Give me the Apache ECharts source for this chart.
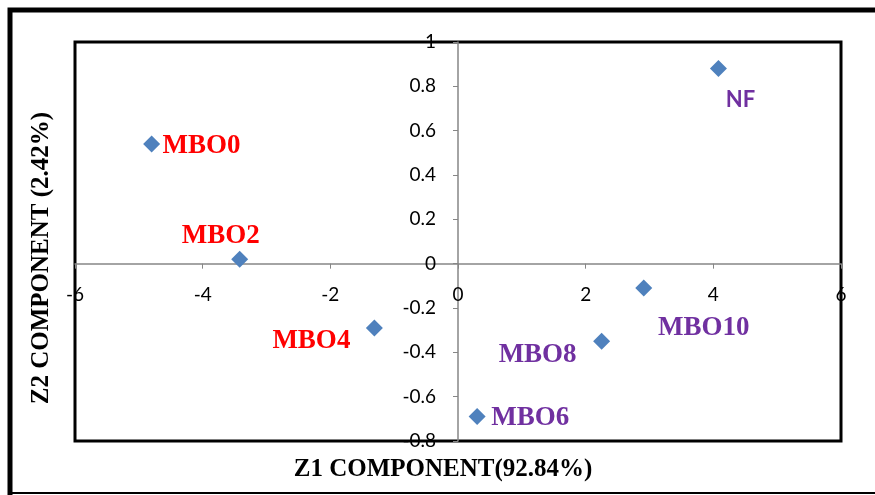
<!DOCTYPE html>
<html>
<head>
<meta charset="utf-8">
<script src="https://cdn.jsdelivr.net/npm/echarts@6/dist/echarts.min.js"></script>
<style>
  html, body { margin: 0; padding: 0; background: #fff; }
  #chart { width: 875px; height: 495px; }
</style>
</head>
<body>
<div id="chart"></div>
<script>
// sample names and PCA scores
var names = ['MBO0', 'MBO2', 'MBO4', 'MBO6', 'MBO8', 'MBO10', 'NF'];
var z1 = [-4.80, -3.42, -1.31, 0.30, 2.25, 2.91, 4.08];
var z2 = [0.54, 0.02, -0.29, -0.69, -0.35, -0.11, 0.88];

// axis ranges / ticks
var xMin = -6, xMax = 6, xStep = 2;
var yMin = -0.8, yMax = 1, yStep = 0.2;

// label placement (px from the marker centre) and colours
var labelOffsets = [[50, 2], [-19, -23], [-63, 13], [53, 1], [-64, 14], [60, 40], [22, 31]];
var labelColors = ['#ff0000', '#ff0000', '#ff0000', '#7030a0', '#7030a0', '#7030a0', '#7030a0'];

var W = 875, H = 495;
var gLeft = 75, gRight = 34, gTop = 42, gBottom = 54;
var gW = W - gLeft - gRight, gH = H - gTop - gBottom;

// axes cross at zero: shift each axis from the grid edge onto the zero line
var xAxisOffset = -gH * (0 - yMin) / (yMax - yMin);
var yAxisOffset = -gW * (0 - xMin) / (xMax - xMin);

var points = names.map(function (n, i) {
    var isNF = n === 'NF';
    return {
        name: n,
        value: [z1[i], z2[i]],
        label: {
            offset: labelOffsets[i],
            color: labelColors[i],
            fontFamily: isNF ? 'Lato' : 'Liberation Serif',
            fontSize: isNF ? 22 : 27
        }
    };
});

var chart = echarts.init(document.getElementById('chart'));

var axisGray = '#868686';

var option = {
    animation: false,
    grid: {
        left: gLeft, right: gRight, top: gTop, bottom: gBottom,
        show: true,
        borderColor: '#000',
        borderWidth: 3,
        backgroundColor: 'transparent'
    },
    xAxis: {
        type: 'value',
        position: 'bottom',
        offset: xAxisOffset,
        min: xMin, max: xMax, interval: xStep,
        axisLine: { onZero: false, lineStyle: { color: axisGray, width: 1.5 } },
        axisTick: { show: true, length: 5, lineStyle: { color: axisGray } },
        splitLine: { show: false },
        axisLabel: { color: '#000', fontFamily: 'Lato', fontSize: 19, margin: 22 }
    },
    yAxis: {
        type: 'value',
        position: 'left',
        offset: yAxisOffset,
        min: yMin, max: yMax, interval: yStep,
        axisLine: { onZero: false, lineStyle: { color: axisGray, width: 1.5 } },
        axisTick: { show: true, length: 5, lineStyle: { color: axisGray } },
        splitLine: { show: false },
        axisLabel: {
            color: '#000', fontFamily: 'Lato', fontSize: 19, margin: 22,
            formatter: function (v) { return String(Math.round(v * 10) / 10); }
        }
    },
    series: [{
        type: 'scatter',
        symbol: 'diamond',
        symbolSize: 17,
        itemStyle: { color: '#4f81bd', opacity: 1 },
        label: {
            show: true,
            position: 'inside',
            align: 'center',
            verticalAlign: 'middle',
            fontWeight: 'bold',
            formatter: '{b}'
        },
        data: points
    }],
    graphic: [
        {
            type: 'polyline',
            shape: { points: [[10, 495], [10, 10], [880, 10]] },
            style: { stroke: '#000', lineWidth: 5, fill: null }
        },
        {
            type: 'line',
            shape: { x1: 10, y1: 493, x2: 880, y2: 493 },
            style: { stroke: '#000', lineWidth: 2 }
        },
        {
            type: 'text',
            x: 443, y: 470,
            style: {
                text: 'Z1 COMPONENT(92.84%)',
                font: 'bold 25px "Liberation Serif"',
                fill: '#000',
                align: 'center',
                verticalAlign: 'middle'
            }
        },
        {
            type: 'text',
            x: 42, y: 258,
            rotation: Math.PI / 2,
            style: {
                text: 'Z2 COMPONENT (2.42%)',
                font: 'bold 25px "Liberation Serif"',
                fill: '#000',
                align: 'center',
                verticalAlign: 'middle'
            }
        }
    ]
};

chart.setOption(option);
</script>
</body>
</html>
